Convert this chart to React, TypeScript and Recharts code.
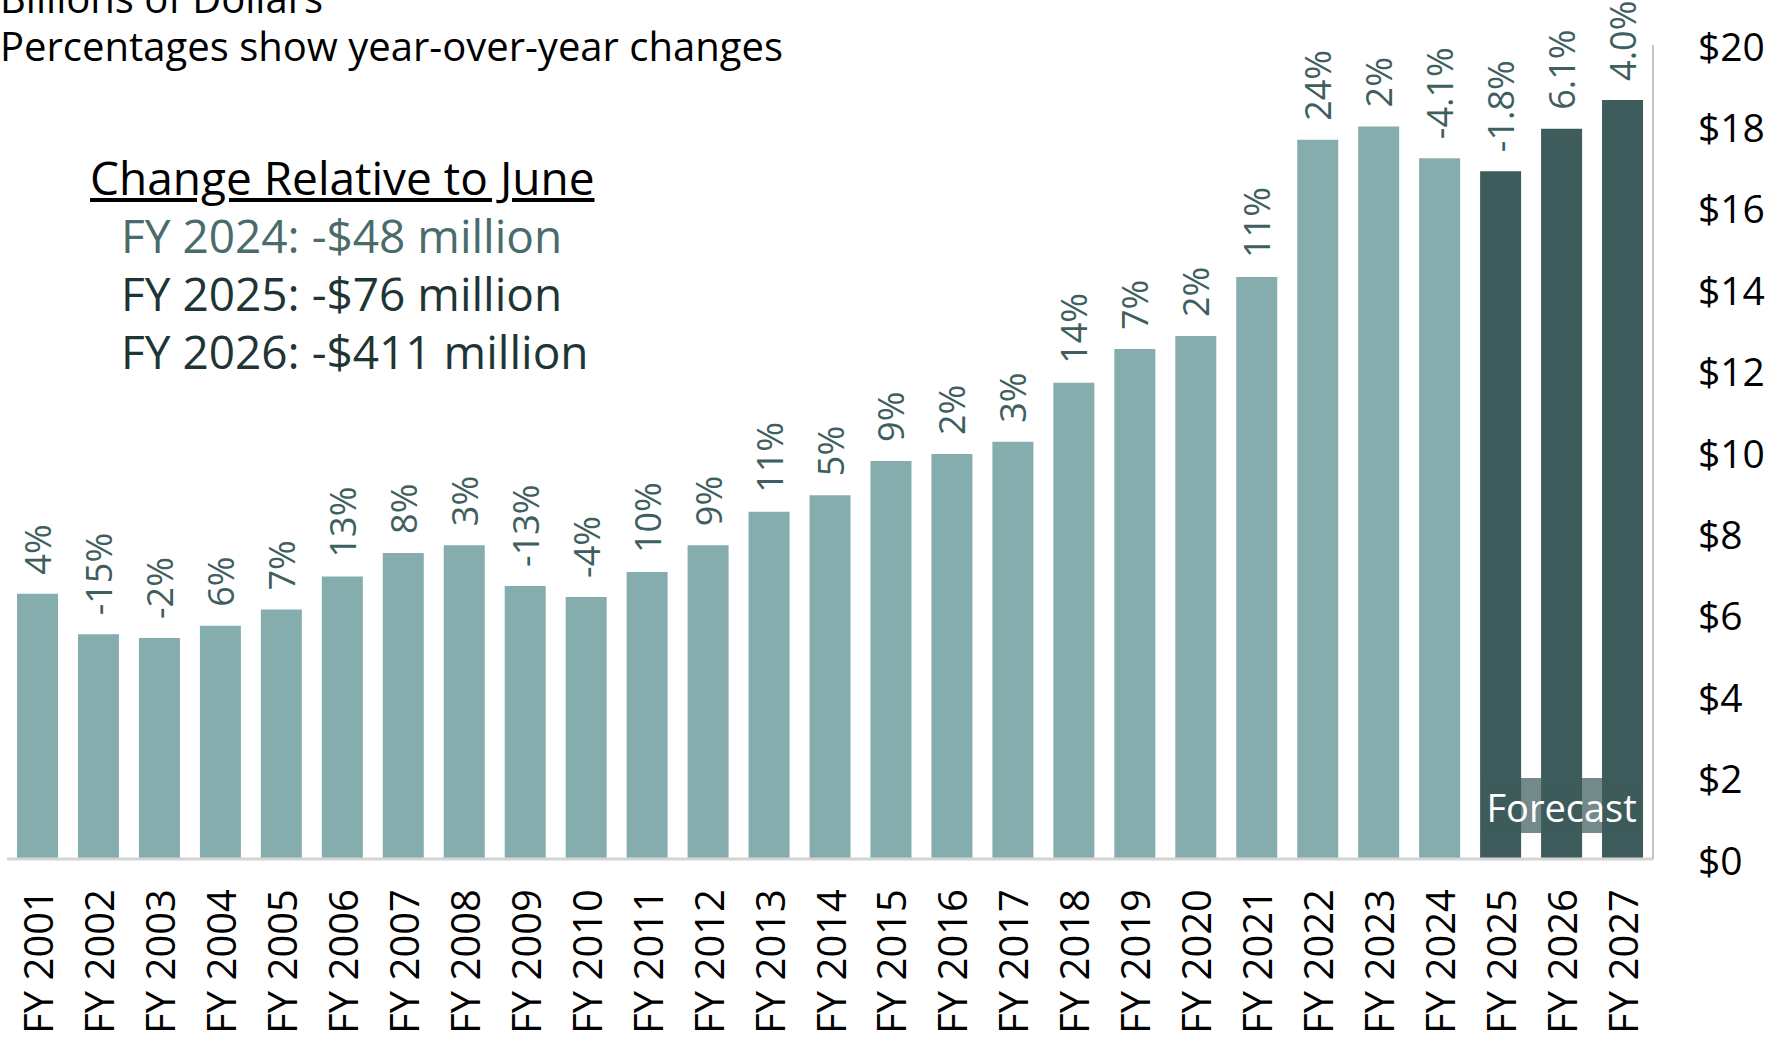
import React from "react";
import { BarChart, Bar, XAxis, YAxis, Cell, LabelList } from "recharts";

const years = [
  "FY 2001", "FY 2002", "FY 2003", "FY 2004", "FY 2005", "FY 2006", "FY 2007",
  "FY 2008", "FY 2009", "FY 2010", "FY 2011", "FY 2012", "FY 2013", "FY 2014",
  "FY 2015", "FY 2016", "FY 2017", "FY 2018", "FY 2019", "FY 2020", "FY 2021",
  "FY 2022", "FY 2023", "FY 2024", "FY 2025", "FY 2026", "FY 2027",
];

// billions of dollars
const revenue = [
  6.52, 5.52, 5.43, 5.73, 6.13, 6.94, 7.52, 7.71, 6.71, 6.44, 7.05, 7.71, 8.53,
  8.94, 9.78, 9.95, 10.25, 11.7, 12.53, 12.85, 14.3, 17.67, 18.0, 17.22, 16.9,
  17.94, 18.65,
];

const yoyChange = [
  "4%", "-15%", "-2%", "6%", "7%", "13%", "8%", "3%", "-13%", "-4%", "10%",
  "9%", "11%", "5%", "9%", "2%", "3%", "14%", "7%", "2%", "11%", "24%", "2%",
  "-4.1%", "-1.8%", "6.1%", "4.0%",
];

const forecastYears = ["FY 2025", "FY 2026", "FY 2027"];

const yTicks = [0, 2, 4, 6, 8, 10, 12, 14, 16, 18, 20];

const notes = [
  { text: "FY 2024: -$48 million", color: "#4A6B6B" },
  { text: "FY 2025: -$76 million", color: "#1F3535" },
  { text: "FY 2026: -$411 million", color: "#1F3535" },
];

const LIGHT = "#86ADAD";
const DARK = "#3F5C5C";
const FONT = "'Open Sans', 'Noto Sans', sans-serif";

const data = years.map((fy, i) => ({
  fy,
  value: revenue[i],
  change: yoyChange[i],
  forecast: forecastYears.includes(fy),
}));

// middle forecast bar carries the "Forecast" tag
const tagIndex = years.indexOf(forecastYears[1]);

function XTick({ x, y, payload }: any) {
  return (
    <text
      transform={`translate(${x},${y + 22}) rotate(-90)`}
      textAnchor="end"
      dominantBaseline="central"
      fontSize={40}
      fontFamily={FONT}
      fill="#000"
    >
      {payload.value}
    </text>
  );
}

function YTick({ x, y, payload }: any) {
  return (
    <text
      x={x + 37}
      y={y}
      textAnchor="start"
      dominantBaseline="central"
      fontSize={39}
      fontFamily={FONT}
      fill="#000"
    >
      {`$${payload.value}`}
    </text>
  );
}

function ChangeLabel({ x, y, width, value }: any) {
  const cx = x + width / 2;
  return (
    <text
      transform={`translate(${cx},${y - 19}) rotate(-90)`}
      textAnchor="start"
      dominantBaseline="central"
      fontSize={36}
      fontFamily={FONT}
      fill="#3F5F5F"
    >
      {value}
    </text>
  );
}

function ForecastTag({ x, y, width, height, index }: any) {
  if (index !== tagIndex) return null;
  const cx = x + width / 2;
  const base = y + height;
  return (
    <g>
      <rect x={cx - 79} y={base - 81} width={158} height={55} fill={DARK} fillOpacity={0.72} />
      <text
        x={cx}
        y={base - 52}
        textAnchor="middle"
        dominantBaseline="central"
        fontSize={38}
        fontFamily={FONT}
        fill="#fff"
      >
        Forecast
      </text>
    </g>
  );
}

export default function App() {
  return (
    <div
      style={{
        position: "absolute",
        left: 0,
        top: 0,
        width: 1783,
        height: 1040,
        background: "#fff",
        fontFamily: FONT,
        overflow: "hidden",
      }}
    >
      <div style={{ position: "absolute", left: 0, top: -26, fontSize: 40, lineHeight: "48px", color: "#000", whiteSpace: "nowrap" }}>
        <div>Billions of Dollars</div>
        <div>Percentages show year-over-year changes</div>
      </div>

      <div style={{ position: "absolute", left: 90, top: 148, fontSize: 46, lineHeight: "58px", whiteSpace: "nowrap" }}>
        <div style={{ textDecoration: "underline", color: "#000" }}>Change Relative to June</div>
        {notes.map((n) => (
          <div key={n.text} style={{ color: n.color, paddingLeft: 31 }}>
            {n.text}
          </div>
        ))}
      </div>

      <BarChart
        width={1783}
        height={1040}
        data={data}
        margin={{ top: 45, right: 0, bottom: 0, left: 7 }}
        barSize={41}
      >
        <XAxis
          dataKey="fy"
          interval={0}
          height={181}
          tickLine={false}
          axisLine={{ stroke: "#D4D4D4", strokeWidth: 3 }}
          tick={<XTick />}
        />
        <YAxis
          orientation="right"
          domain={[0, 20]}
          ticks={yTicks}
          width={130}
          tickLine={false}
          axisLine={{ stroke: "#C4C4C4", strokeWidth: 2 }}
          tick={<YTick />}
        />
        <Bar dataKey="value" isAnimationActive={false}>
          {data.map((d) => (
            <Cell key={d.fy} fill={d.forecast ? DARK : LIGHT} />
          ))}
          <LabelList dataKey="change" content={<ChangeLabel />} />
          <LabelList dataKey="fy" content={<ForecastTag />} />
        </Bar>
      </BarChart>
    </div>
  );
}
